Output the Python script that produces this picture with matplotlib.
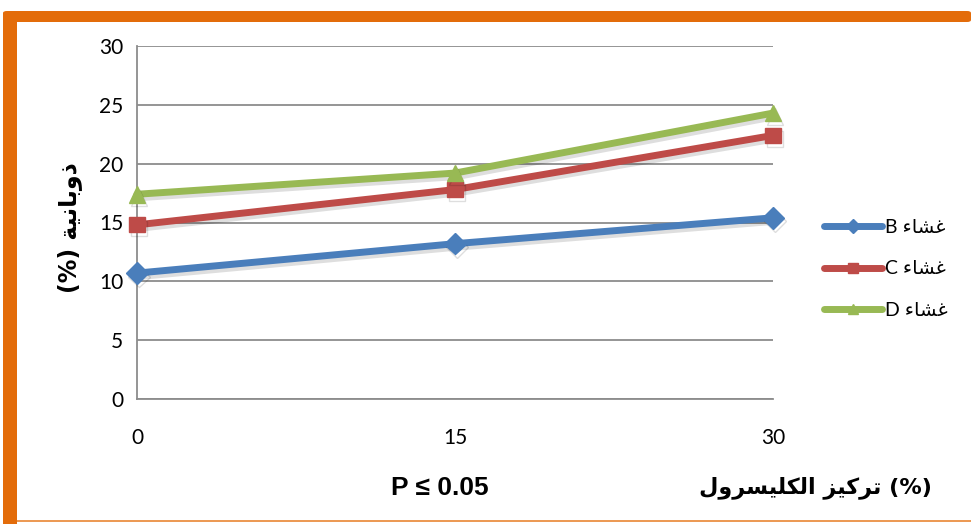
import matplotlib
matplotlib.use("Agg")
import matplotlib.pyplot as plt
from matplotlib.patches import Rectangle, FancyBboxPatch
from matplotlib.lines import Line2D
import matplotlib.patheffects as pe

# Glycerol concentration (%) and solubility (%) for the three films
glycerol = [0, 15, 30]
film_b = [10.7, 13.2, 15.4]
film_c = [14.8, 17.8, 22.4]
film_d = [17.4, 19.2, 24.3]

y_ticks = [0, 5, 10, 15, 20, 25, 30]
x_ticks = [0, 15, 30]

# Arabic strings written in presentation forms, in visual (left-to-right) order
film_word = "\uFE80\uFE8E\uFEB8\uFECF"                      # غشاء
legend_labels = ["B " + film_word, "C " + film_word, "D " + film_word]
y_label = "(%) \uFE94\uFEF4\uFEE7\uFE8E\uFE91\uFEED\uFEAB"  # ذوبانية (%)
x_label = ("\uFEDD\uFEED\uFEAE\uFEB4\uFEF4\uFEE0\uFEDC\uFEDF\uFE8D "
           "\uFEB0\uFEF4\uFEDB\uFEAE\uFE97 (%)")              # (%) تركيز الكليسرول
p_note = "P \u2264 0.05"

colors = ["#4A7EBB", "#BE4B48", "#98B954"]
markers = ["D", "s", "^"]
msizes = [11, 11, 12]

W, H = 971, 524
fig = plt.figure(figsize=(W / 100, H / 100), dpi=100)
fig.patch.set_facecolor("white")

ax = fig.add_axes([137 / W, 1 - 399 / H, (773 - 137) / W, (399 - 46) / H])
ax.set_xlim(0, 30)
ax.set_ylim(0, 30)
ax.set_yticks(y_ticks)
ax.set_xticks(x_ticks)
ax.grid(axis="y", color="#8C8C8C", lw=1.3)
ax.set_axisbelow(True)
for s in ["top", "right"]:
    ax.spines[s].set_visible(False)
ax.spines["left"].set_color("#8C8C8C")
ax.spines["bottom"].set_color("#8C8C8C")
ax.spines["left"].set_linewidth(1.3)
ax.spines["bottom"].set_linewidth(1.3)
ax.tick_params(length=0, labelsize=15, colors="black", pad=10)
ax.tick_params(axis="x", pad=21)
for lbl in ax.get_xticklabels() + ax.get_yticklabels():
    lbl.set_family(["Lato", "DejaVu Sans"])

series = [film_b, film_c, film_d]
shadow = [pe.SimpleLineShadow(offset=(1.5, -2.5), shadow_color="#000000",
                              alpha=0.13), pe.Normal()]
for vals, c, m, ms in zip(series, colors, markers, msizes):
    ax.plot(glycerol, vals, color=c, lw=5, marker=m, ms=ms,
            markeredgecolor=c, solid_capstyle="round", clip_on=False,
            zorder=3, path_effects=shadow)

handles = [Line2D([0], [0], color=c, lw=5, marker=m, ms=ms * 0.65,
                  solid_capstyle="round")
           for c, m, ms in zip(colors, markers, msizes)]
leg = fig.legend(handles, legend_labels, loc="center left",
                 bbox_to_anchor=(806 / W, 1 - 269 / H), frameon=False,
                 handlelength=3.0, handletextpad=0.15, labelspacing=1.25,
                 prop={"family": ["Lato", "DejaVu Sans"], "size": 14})

fig.text(70 / W, 1 - 228 / H, y_label, rotation=90, ha="center", va="center",
         fontsize=17, fontweight="bold", family=["DejaVu Sans"])
fig.text(815 / W, 1 - 488 / H, x_label, ha="center", va="center",
         fontsize=16, fontweight="bold", family=["DejaVu Sans"])
fig.text(440 / W, 1 - 488 / H, p_note, ha="center", va="center",
         fontsize=19, fontweight="bold", family=["Liberation Sans", "DejaVu Sans"])

# orange frame: top bar, left bar, thin bottom rule
orange = "#E36C0A"
fig.patches.append(FancyBboxPatch((3 / W, 1 - 22 / H), (W - 3) / W, 11 / H,
                                  boxstyle="round,pad=0,rounding_size=0.004",
                                  transform=fig.transFigure, fc=orange, ec="none"))
fig.patches.append(Rectangle((3 / W, 0), 14 / W, (H - 14) / H,
                             transform=fig.transFigure, fc=orange, ec="none"))
fig.patches.append(Rectangle((17 / W, 2 / H), (W - 17) / W, 2 / H,
                             transform=fig.transFigure, fc="#EC9A55", ec="none"))

fig.savefig("out.png", dpi=100, facecolor="white")
